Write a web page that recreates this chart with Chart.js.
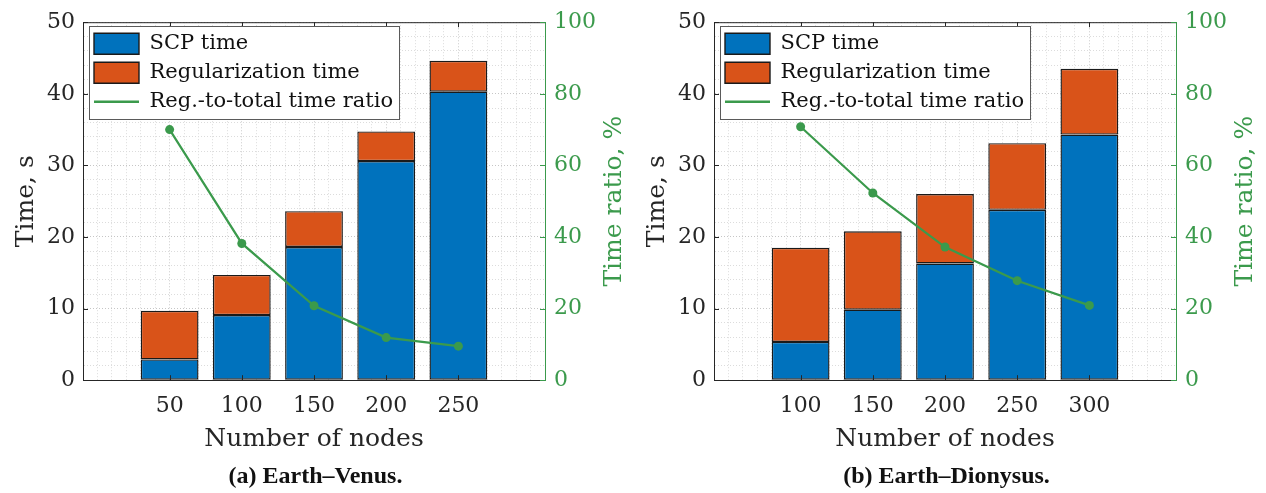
<!DOCTYPE html>
<html>
<head>
<meta charset="utf-8">
<script src="https://cdn.jsdelivr.net/npm/chart.js@4/dist/chart.umd.min.js"></script>
<style>
  html, body { margin: 0; padding: 0; background: #fff; }
  #wrap { position: relative; width: 1266px; height: 493px; }
  .box { position: absolute; top: 0; width: 631px; height: 493px; }
</style>
</head>
<body>
<div id="wrap">
  <div class="box" style="left:0"><canvas id="venus" width="631" height="493"></canvas></div>
  <div class="box" style="left:631px"><canvas id="dionysus" width="631" height="493"></canvas></div>
</div>
<script>
// (a) Earth–Venus
const venusNodes = [50, 100, 150, 200, 250];
const venusScp = [2.9, 9.1, 18.6, 30.6, 40.3];
const venusReg = [6.8, 5.6, 5.0, 4.15, 4.3];
const venusRatio = [70.0, 38.2, 20.8, 11.9, 9.5];

// (b) Earth–Dionysus
const dionysusNodes = [100, 150, 200, 250, 300];
const dionysusScp = [5.35, 9.85, 16.3, 23.8, 34.3];
const dionysusReg = [13.15, 10.95, 9.7, 9.3, 9.2];
const dionysusRatio = [70.8, 52.3, 37.2, 27.8, 20.9];

const blue = "#0072bd";
const orange = "#d95319";
const green = "#3b9a4c";
const ink = "#262626";
const majorGrid = "#c6c6c6";
const minorGrid = "#dcdcdc";
const serif = "'DejaVu Serif', serif";

// box, inward ticks, right-hand label and framed legend, the way matlab draws them
const framePlugin = {
	id: "frame",
	afterLayout(chart) {
		chart.legend.left = chart.chartArea.left + 3;
		chart.legend.top = chart.chartArea.top + 3;
	},
	afterDraw(chart) {
		const { ctx, chartArea: a, scales } = chart;
		const t = 5;
		ctx.save();
		ctx.lineWidth = 1;
		ctx.strokeStyle = ink;
		ctx.beginPath();
		ctx.moveTo(a.left, a.top + 0.5);
		ctx.lineTo(a.right, a.top + 0.5);
		scales.x.ticks.forEach((tk) => {
			const px = Math.round(scales.x.getPixelForValue(tk.value)) + 0.5;
			ctx.moveTo(px, a.bottom);
			ctx.lineTo(px, a.bottom - t);
			ctx.moveTo(px, a.top);
			ctx.lineTo(px, a.top + t);
		});
		scales.y.ticks.forEach((tk) => {
			if (tk.value % 10 !== 0) return;
			const py = Math.round(scales.y.getPixelForValue(tk.value)) + 0.5;
			ctx.moveTo(a.left, py);
			ctx.lineTo(a.left + t, py);
		});
		ctx.stroke();
		ctx.strokeStyle = green;
		ctx.beginPath();
		scales.y1.ticks.forEach((tk) => {
			const py = Math.round(scales.y1.getPixelForValue(tk.value)) + 0.5;
			ctx.moveTo(a.right, py);
			ctx.lineTo(a.right - t, py);
		});
		ctx.stroke();

		// right axis title, reads bottom to top
		ctx.save();
		ctx.translate(a.right + 69, (a.top + a.bottom) / 2);
		ctx.rotate(-Math.PI / 2);
		ctx.fillStyle = green;
		ctx.font = "25px " + serif;
		ctx.textAlign = "center";
		ctx.textBaseline = "middle";
		ctx.fillText("Time ratio, %", 0, 0);
		ctx.restore();

		// legend frame
		const hb = chart.legend.legendHitBoxes;
		const l = Math.min(...hb.map((h) => h.left)) - 5;
		const tp = hb[0].top - 7;
		const r = Math.max(...hb.map((h) => h.left + h.width)) + 6;
		const last = hb[hb.length - 1];
		const b = last.top + last.height + 7;
		ctx.fillStyle = "#fff";
		ctx.fillRect(l, tp, r - l, b - tp);
		ctx.strokeStyle = "#5a5a5a";
		ctx.strokeRect(Math.round(l) + 0.5, Math.round(tp) + 0.5, Math.round(r - l), Math.round(b - tp));
		ctx.restore();
		chart.legend.draw();
	},
};

function makeChart(id, nodes, scp, reg, ratio, caption) {
	const xMin = nodes[0] - 60;
	const xMax = nodes[nodes.length - 1] + 60;
	const tickFont = { family: serif, size: 22 };

	return new Chart(document.getElementById(id), {
		type: "bar",
		data: {
			datasets: [
				{
					label: "SCP time",
					data: nodes.map((n, i) => ({ x: n, y: scp[i] })),
					backgroundColor: blue,
					borderColor: "#1a1a1a",
					borderWidth: 1.4,
					borderSkipped: false,
					inflateAmount: 0,
					categoryPercentage: 1,
					barPercentage: 0.8,
					order: 1,
				},
				{
					label: "Regularization time",
					data: nodes.map((n, i) => ({ x: n, y: reg[i] })),
					backgroundColor: orange,
					borderColor: "#1a1a1a",
					borderWidth: 1.4,
					borderSkipped: false,
					inflateAmount: 0,
					categoryPercentage: 1,
					barPercentage: 0.8,
					order: 1,
				},
				{
					type: "line",
					label: "Reg.-to-total time ratio",
					data: nodes.map((n, i) => ({ x: n, y: ratio[i] })),
					yAxisID: "y1",
					borderColor: green,
					backgroundColor: green,
					borderWidth: 2.2,
					pointRadius: 4.5,
					pointBackgroundColor: green,
					pointBorderWidth: 0,
					tension: 0,
					order: 0,
				},
			],
		},
		options: {
			responsive: false,
			animation: false,
			devicePixelRatio: 1,
			layout: { padding: { top: 20, left: 0, right: 0, bottom: 0 } },
			scales: {
				x: {
					type: "linear",
					min: xMin,
					max: xMax,
					offset: false,
					stacked: true,
					position: "bottom",
					afterBuildTicks: (s) => {
						s.ticks = nodes.map((v) => ({ value: v }));
					},
					afterFit: (s) => {
						s.height = 82;
					},
					ticks: { color: ink, font: tickFont, padding: 13, maxRotation: 0, autoSkip: false },
					grid: { color: majorGrid, drawTicks: false, offset: false },
					border: { color: ink, dash: [1, 2] },
					title: {
						display: true,
						text: "Number of nodes",
						color: ink,
						font: { family: serif, size: 25 },
						padding: { top: 8, bottom: 8 },
					},
				},
				xMinor: {
					type: "linear",
					min: xMin,
					max: xMax,
					offset: false,
					position: "bottom",
					afterFit: (s) => {
						s.height = 0;
					},
					ticks: { display: false, stepSize: 10, autoSkip: false },
					grid: { color: minorGrid, drawTicks: false, offset: false },
					border: { display: false, dash: [1, 2] },
				},
				y: {
					min: 0,
					max: 50,
					stacked: true,
					position: "left",
					afterFit: (s) => {
						s.width = 83;
					},
					ticks: {
						stepSize: 2,
						autoSkip: false,
						padding: 8,
						color: ink,
						font: tickFont,
						callback: (v) => (v % 10 === 0 ? v : ""),
					},
					grid: {
						color: (c) => (c.tick && c.tick.value % 10 === 0 ? majorGrid : minorGrid),
						drawTicks: false,
					},
					border: { color: ink, dash: [1, 2] },
					title: {
						display: true,
						text: "Time, s",
						color: ink,
						font: { family: serif, size: 25 },
						padding: { top: 11, bottom: 0 },
					},
				},
				y1: {
					min: 0,
					max: 100,
					position: "right",
					afterFit: (s) => {
						s.width = 86;
					},
					ticks: { stepSize: 20, padding: 9, color: green, font: tickFont },
					grid: { drawOnChartArea: false, drawTicks: false },
					border: { color: green },
				},
			},
			plugins: {
				tooltip: { enabled: false },
				legend: {
					position: "chartArea",
					align: "start",
					labels: {
						usePointStyle: true,
						pointStyleWidth: 45,
						boxHeight: 21,
						padding: 8,
						color: "#111",
						font: { family: serif, size: 21 },
						generateLabels: (chart) => {
							const items = Chart.defaults.plugins.legend.labels.generateLabels(chart);
							items.forEach((it) => {
								const ds = chart.data.datasets[it.datasetIndex];
								if (ds.type === "line") {
									it.pointStyle = "line";
									it.lineWidth = 2.5;
								} else {
									it.pointStyle = "rect";
								}
							});
							return items.sort((p, q) => p.datasetIndex - q.datasetIndex);
						},
					},
				},
				title: {
					display: true,
					position: "bottom",
					text: caption,
					color: "#111",
					font: { family: "'Liberation Serif', serif", size: 24, weight: "bold" },
					padding: { top: 0, bottom: 2 },
				},
			},
		},
		plugins: [framePlugin],
	});
}

makeChart("venus", venusNodes, venusScp, venusReg, venusRatio, "(a) Earth–Venus.");
makeChart("dionysus", dionysusNodes, dionysusScp, dionysusReg, dionysusRatio, "(b) Earth–Dionysus.");
</script>
</body>
</html>
